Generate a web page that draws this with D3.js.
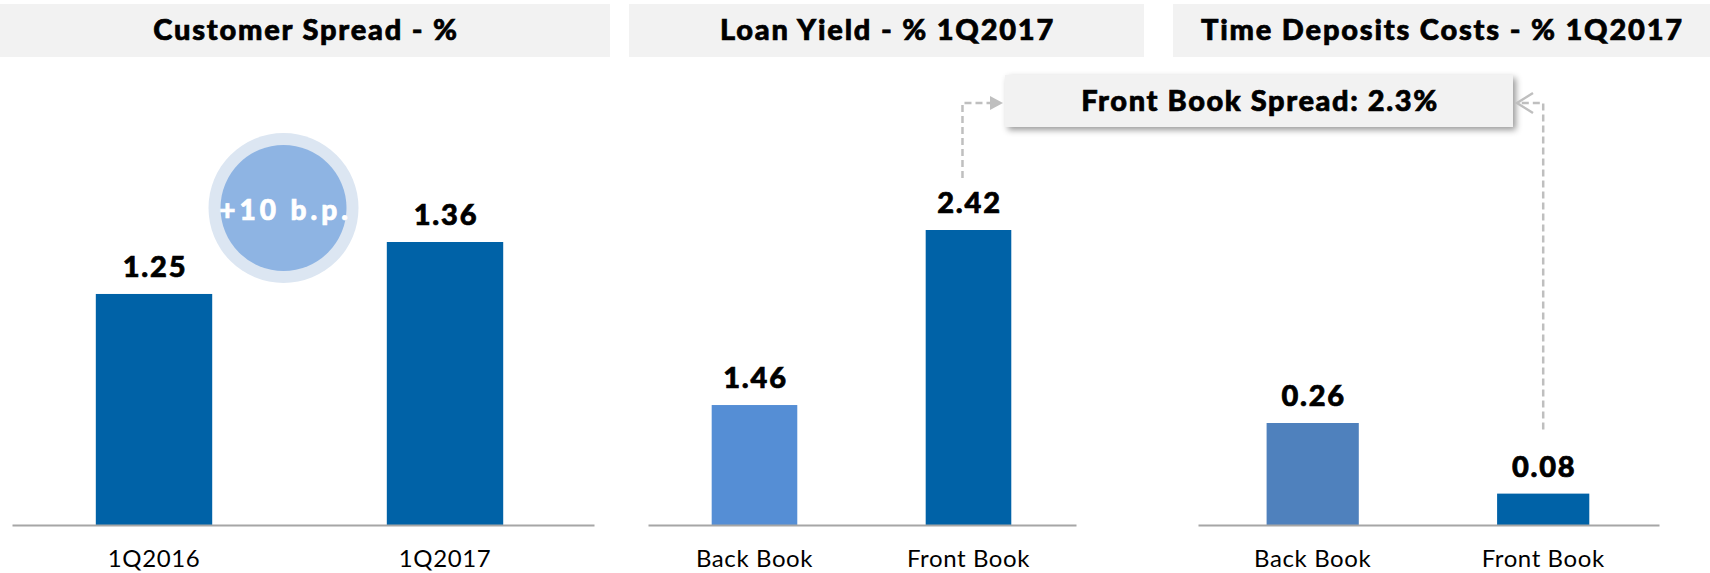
<!DOCTYPE html>
<html>
<head>
<meta charset="utf-8">
<script src="https://cdn.jsdelivr.net/npm/d3@7"></script>
<style>
  html, body { margin: 0; padding: 0; background: #ffffff; }
  svg { display: block; }
  text { font-family: Lato, "Open Sans", "DejaVu Sans", sans-serif; }
  .heavy { font-weight: 900; stroke-width: 0.7px; paint-order: stroke; }
</style>
</head>
<body>
<svg id="chart" width="1710" height="573"></svg>
<script>
// ---- Data ----
const panelTitles = ["Customer Spread - %", "Loan Yield - % 1Q2017", "Time Deposits Costs - % 1Q2017"];

const spreadCategories = ["1Q2016", "1Q2017"];
const spreadValues = [1.25, 1.36];

const loanCategories = ["Back Book", "Front Book"];
const loanValues = [1.46, 2.42];

const depositCategories = ["Back Book", "Front Book"];
const depositValues = [0.26, 0.08];

const changeLabel = "+10 b.p.";
const frontBookSpreadLabel = "Front Book Spread: 2.3%";

// ---- Layout / style ----
const baseY = 525;
const darkBlue = "#0062a7";

const panels = [
  { title: panelTitles[0], cats: spreadCategories, vals: spreadValues,
    box: [0, 610], axis: [12, 594], align: 0.48, yDomain: [0.761, 1.36], yTop: 242,
    colors: [darkBlue, darkBlue], fmt: d3.format(".2f") },
  { title: panelTitles[1], cats: loanCategories, vals: loanValues,
    box: [629, 1144], axis: [648, 1076], align: 0.496, yDomain: [0.802, 2.42], yTop: 230,
    colors: ["#558ed5", darkBlue], fmt: d3.format(".2f") },
  { title: panelTitles[2], cats: depositCategories, vals: depositValues,
    box: [1173, 1710], axis: [1198, 1659], align: 0.496, yDomain: [0, 0.26], yTop: 423,
    colors: ["#4f81bd", darkBlue], fmt: d3.format(".2f") }
];

const svg = d3.select("#chart");

const defs = svg.append("defs");
const shadow = defs.append("filter").attr("id", "shadow")
  .attr("x", "-10%").attr("y", "-30%").attr("width", "130%").attr("height", "190%");
shadow.append("feDropShadow").attr("dx", 3).attr("dy", 3).attr("stdDeviation", 3)
  .attr("flood-color", "#000").attr("flood-opacity", 0.4);

const scales = [];

panels.forEach((p, i) => {
  const g = svg.append("g").attr("class", "panel-" + i);

  // Title box
  g.append("rect")
    .attr("x", p.box[0]).attr("y", 4)
    .attr("width", p.box[1] - p.box[0]).attr("height", 53)
    .attr("fill", "#f2f2f2");
  g.append("text")
    .attr("class", "heavy")
    .attr("x", (p.box[0] + p.box[1]) / 2 + 1).attr("y", 40)
    .attr("text-anchor", "middle")
    .attr("font-size", 29).attr("letter-spacing", 1.8)
    .attr("fill", "#000").attr("stroke", "#000")
    .text(p.title);

  const x = d3.scaleBand().domain(p.cats).range(p.axis)
    .paddingInner(0.6).paddingOuter(0.3).align(p.align);
  const y = d3.scaleLinear().domain(p.yDomain).range([baseY, p.yTop]);
  scales.push({ x, y });

  // Bars
  g.selectAll("rect.bar").data(p.vals).join("rect")
    .attr("class", "bar")
    .attr("x", (d, j) => x(p.cats[j]))
    .attr("width", x.bandwidth())
    .attr("y", d => y(d))
    .attr("height", d => baseY - y(d))
    .attr("fill", (d, j) => p.colors[j]);

  // Value labels
  g.selectAll("text.val").data(p.vals).join("text")
    .attr("class", "val heavy")
    .attr("x", (d, j) => x(p.cats[j]) + x.bandwidth() / 2 + 1)
    .attr("y", d => y(d) - 17)
    .attr("text-anchor", "middle")
    .attr("font-size", 29).attr("letter-spacing", 1.8)
    .attr("fill", "#000").attr("stroke", "#000")
    .text(d => p.fmt(d));

  // Axis
  const axis = g.append("g")
    .attr("transform", `translate(0,${baseY})`)
    .call(d3.axisBottom(x).tickSize(0).tickSizeOuter(0).tickPadding(25));
  axis.select(".domain").attr("stroke", "#a6a6a6").attr("stroke-width", 2);
  axis.selectAll("text")
    .attr("font-size", 24)
    .attr("letter-spacing", 0.6)
    .attr("font-family", "Lato, 'Open Sans', sans-serif")
    .attr("fill", "#000");
});

// ---- Change badge in panel 1 ----
{
  const { x } = scales[0];
  const cx = (x(spreadCategories[0]) + x.bandwidth() + x(spreadCategories[1])) / 2 - 16;
  const cy = 208;
  svg.append("circle").attr("cx", cx).attr("cy", cy).attr("r", 75).attr("fill", "#dce6f2");
  svg.append("circle").attr("cx", cx).attr("cy", cy).attr("r", 63).attr("fill", "#8eb4e3");
  svg.append("text").attr("class", "heavy")
    .attr("x", cx + 2).attr("y", cy + 12)
    .attr("text-anchor", "middle")
    .attr("font-size", 28).attr("letter-spacing", 4)
    .attr("fill", "#fff").attr("stroke", "#fff")
    .text(changeLabel);
}

// ---- Front Book Spread callout ----
{
  const boxX0 = 1005, boxX1 = 1513, boxY = 75, boxH = 52;
  const midY = boxY + boxH / 2 + 2;
  svg.append("rect")
    .attr("x", boxX0).attr("y", boxY).attr("width", boxX1 - boxX0).attr("height", boxH)
    .attr("fill", "#f2f2f2").attr("filter", "url(#shadow)");
  svg.append("text").attr("class", "heavy")
    .attr("x", (boxX0 + boxX1) / 2 + 1).attr("y", 111)
    .attr("text-anchor", "middle")
    .attr("font-size", 29).attr("letter-spacing", 1.6)
    .attr("fill", "#000").attr("stroke", "#000")
    .text(frontBookSpreadLabel);

  const dashColor = "#bfbfbf";
  // Left connector from loan Front Book label
  const s2 = scales[1];
  const lx = s2.x("Front Book") + s2.x.bandwidth() / 2 - 6;
  const lBottom = s2.y(loanValues[1]) - 52;
  svg.append("path")
    .attr("d", `M${lx},${lBottom} V${midY} H${boxX0 - 14}`)
    .attr("fill", "none").attr("stroke", dashColor).attr("stroke-width", 2.5)
    .attr("stroke-dasharray", "7,4");
  svg.append("path")
    .attr("d", `M${boxX0 - 15},${midY - 7} L${boxX0 - 2},${midY} L${boxX0 - 15},${midY + 7} Z`)
    .attr("fill", dashColor);

  // Right connector from deposit Front Book label
  const s3 = scales[2];
  const rx = s3.x("Front Book") + s3.x.bandwidth() / 2;
  const rBottom = s3.y(depositValues[1]) - 64;
  svg.append("path")
    .attr("d", `M${rx},${rBottom} V${midY} H${boxX1 + 8}`)
    .attr("fill", "none").attr("stroke", dashColor).attr("stroke-width", 2.5)
    .attr("stroke-dasharray", "7,4");
  svg.append("path")
    .attr("d", `M${boxX1 + 20},${midY - 10} L${boxX1 + 4},${midY} L${boxX1 + 20},${midY + 10}`)
    .attr("fill", "none").attr("stroke", dashColor).attr("stroke-width", 2.5);
}
</script>
</body>
</html>
